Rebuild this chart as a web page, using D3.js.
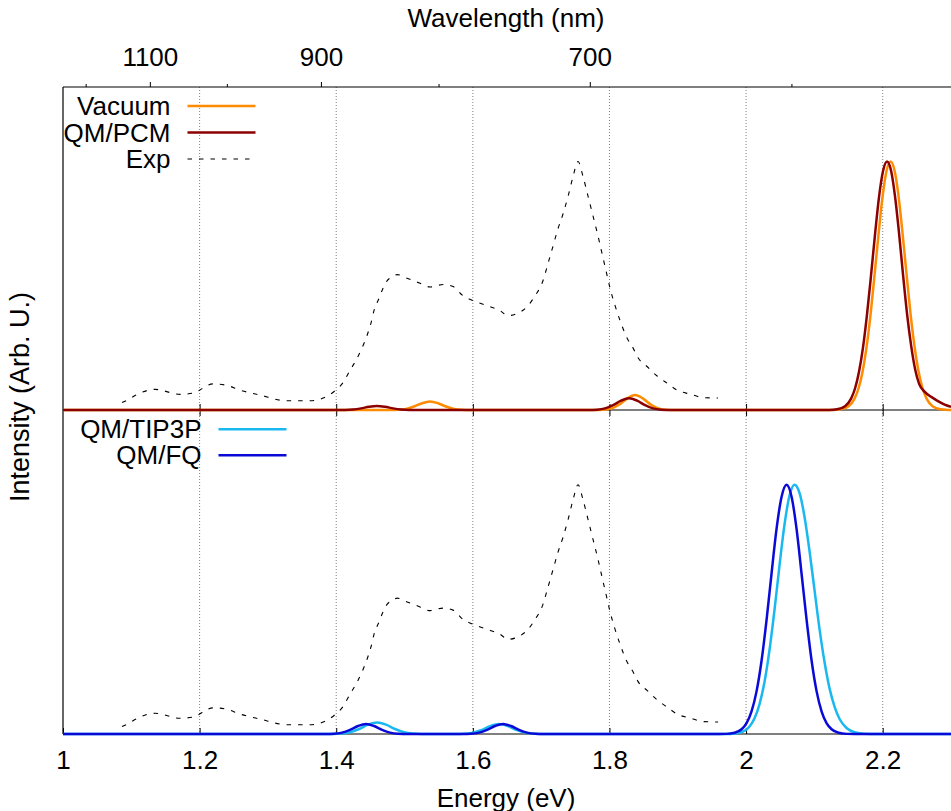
<!DOCTYPE html>
<html>
<head>
<meta charset="utf-8">
<script src="https://cdn.jsdelivr.net/npm/d3@7"></script>
<style>
body{margin:0;background:#fff;}
svg text{font-family:"Liberation Sans",Arial,sans-serif;fill:#000;}
</style>
</head>
<body>
<div id="chart"></div>
<script>
// energy axis (eV)
var energyTicks = [1, 1.2, 1.4, 1.6, 1.8, 2, 2.2];
var gridTicks = [1.2, 1.4, 1.6, 1.8, 2, 2.2];
// wavelength axis (nm)
var wlMajor = [1100, 900, 700];
var wlMinor = [1200, 1000, 800, 600];

// experimental spectrum [eV, normalised intensity]
var expData = [[1.0864,0.03],[1.0957,0.042],[1.1054,0.058],[1.1347,0.083],[1.1713,0.063],[1.1903,0.068],
  [1.2196,0.105],[1.2387,0.10],[1.2591,0.08],[1.2884,0.06],[1.3280,0.037],[1.3616,0.037],[1.3807,0.048],
  [1.3997,0.081],[1.4099,0.11],[1.4202,0.16],[1.4290,0.20],[1.4378,0.25],[1.4451,0.30],[1.4509,0.35],
  [1.4553,0.40],[1.4627,0.45],[1.4685,0.49],[1.4744,0.52],[1.4817,0.535],[1.4890,0.545],[1.5037,0.53],
  [1.5227,0.51],[1.5373,0.495],[1.5564,0.505],[1.5710,0.497],[1.5856,0.46],[1.6003,0.44],[1.6208,0.42],
  [1.6398,0.40],[1.6515,0.38],[1.6662,0.39],[1.6808,0.42],[1.6911,0.46],[1.7013,0.51],[1.7101,0.59],
  [1.7174,0.66],[1.7247,0.73],[1.7321,0.79],[1.7394,0.86],[1.7467,0.94],[1.7540,1.0],[1.7613,0.94],
  [1.7687,0.86],[1.7760,0.78],[1.7833,0.70],[1.7891,0.63],[1.7950,0.56],[1.8009,0.49],[1.8082,0.42],
  [1.8155,0.36],[1.8257,0.29],[1.8345,0.25],[1.8419,0.21],[1.8550,0.175],[1.8697,0.137],[1.8843,0.108],
  [1.8990,0.08],[1.9180,0.064],[1.9370,0.05],[1.9590,0.048]];

// gas phase
var vacuum = [[1.0,0],[1.48,0],[1.4905,0.001],[1.5022,0.0046],[1.5139,0.014],[1.5256,0.0273],[1.5373,0.034],
  [1.5490,0.0273],[1.5608,0.014],[1.5725,0.0046],[1.5842,0.001],[1.595,0],
  [1.78,0],[1.7906,0.0008],[1.8023,0.0056],[1.8140,0.0209],[1.8257,0.046],[1.8375,0.06],[1.8492,0.046],
  [1.8609,0.0209],[1.8726,0.0056],[1.8843,0.0008],[1.895,0],
  [2.115,0],[2.1266,0.0003],[2.1383,0.0026],[2.1501,0.0151],[2.1588,0.0459],[2.1647,0.0876],[2.1706,0.155],
  [2.1764,0.254],[2.1823,0.386],[2.1881,0.544],[2.1940,0.710],[2.1998,0.859],[2.2057,0.963],[2.2115,1.0],
  [2.2174,0.963],[2.2233,0.859],[2.2291,0.710],[2.2350,0.544],[2.2408,0.386],[2.2467,0.254],[2.2525,0.155],
  [2.2584,0.0876],[2.2643,0.0459],[2.2730,0.0151],[2.2847,0.0026],[2.2965,0.0003],[2.3,0]];

// continuum solvation
var pcm = [[1.0,0],[1.40,0],[1.4129,0.0004],[1.4246,0.0022],[1.4363,0.0066],[1.4480,0.0128],[1.4597,0.016],
  [1.4714,0.0128],[1.4832,0.0066],[1.4949,0.0022],[1.5066,0.0004],[1.52,0],
  [1.77,0],[1.7818,0.0013],[1.7935,0.0064],[1.8053,0.0194],[1.8170,0.0376],[1.8287,0.047],[1.8404,0.0376],
  [1.8521,0.0194],[1.8638,0.0064],[1.8755,0.0013],[1.89,0],
  [2.11,0],[2.1215,0.0003],[2.1332,0.0026],[2.1449,0.0151],[2.1537,0.0459],[2.1596,0.0876],[2.1654,0.155],
  [2.1713,0.254],[2.1771,0.386],[2.1830,0.544],[2.1889,0.710],[2.1947,0.859],[2.2006,0.963],[2.2064,1.0],
  [2.2123,0.963],[2.2181,0.859],[2.2240,0.710],[2.2298,0.544],[2.2357,0.386],[2.2416,0.26],[2.2474,0.165],
  [2.2533,0.105],[2.2620,0.072],[2.2708,0.053],[2.2796,0.038],[2.2899,0.023],[2.3,0.013]];

// explicit water, non-polarisable
var tip3p = [[1.0,0],[1.395,0],[1.4070,0.0017],[1.4202,0.0072],[1.4334,0.0201],[1.4466,0.0374],[1.4597,0.046],
  [1.4729,0.0374],[1.4861,0.0201],[1.4993,0.0072],[1.5124,0.0017],[1.525,0],
  [1.575,0],[1.5856,0.0008],[1.5988,0.0046],[1.6120,0.0153],[1.6252,0.0315],[1.6383,0.04],[1.6515,0.0315],
  [1.6647,0.0153],[1.6779,0.0046],[1.6911,0.0008],[1.705,0],
  [1.97,0],[1.9831,0.002],[1.9949,0.009],[2.0051,0.03],[2.0124,0.063],[2.0197,0.12],[2.0271,0.211],
  [2.0344,0.339],[2.0417,0.50],[2.0490,0.678],[2.0563,0.841],[2.0637,0.958],[2.0710,1.0],[2.0783,0.966],
  [2.0856,0.871],[2.0930,0.732],[2.1003,0.575],[2.1076,0.42],[2.1149,0.288],[2.1222,0.183],[2.1296,0.109],
  [2.1369,0.06],[2.1471,0.024],[2.1588,0.007],[2.1735,0.001],[2.19,0],[2.3,0]];

// explicit water, fluctuating charges
var fq = [[1.0,0],[1.385,0],[1.3968,0.001],[1.4085,0.0054],[1.4202,0.0165],[1.4319,0.032],[1.4436,0.04],
  [1.4553,0.032],[1.4671,0.0165],[1.4788,0.0054],[1.4905,0.001],[1.505,0],
  [1.585,0],[1.5974,0.001],[1.6091,0.0054],[1.6208,0.0165],[1.6325,0.032],[1.6442,0.04],[1.6559,0.032],
  [1.6676,0.0165],[1.6793,0.0054],[1.6911,0.001],[1.705,0],
  [1.96,0],[1.9714,0.0005],[1.9831,0.005],[1.9934,0.019],[2.0007,0.044],[2.0080,0.091],[2.0154,0.172],
  [2.0227,0.295],[2.0300,0.458],[2.0373,0.644],[2.0446,0.823],[2.0520,0.952],[2.0593,1.0],[2.0666,0.952],
  [2.0739,0.823],[2.0812,0.644],[2.0886,0.458],[2.0959,0.295],[2.1032,0.172],[2.1105,0.091],[2.1178,0.044],
  [2.1252,0.019],[2.1354,0.005],[2.1471,0.0005],[2.16,0],[2.3,0]];

const W = 951, H = 811;
const pLeft = 63, pRight = 951, pTop = 87, pMid = 410, pBottom = 734;
const font = 26;

const svg = d3.select("#chart").append("svg")
  .attr("width", W)
  .attr("height", H);

const x = d3.scaleLinear().domain([1, 2.3]).range([pLeft, pRight]);
const yTop = d3.scaleLinear().domain([0, 1.3]).range([pMid, pTop]);
const yBot = d3.scaleLinear().domain([0, 1.3]).range([pBottom, pMid]);

svg.append("clipPath").attr("id", "plot")
  .append("rect").attr("x", pLeft).attr("y", pTop - 2)
  .attr("width", pRight - pLeft + 2).attr("height", pBottom - pTop + 4);

// dotted grid in both panels
[[pTop, pMid], [pMid, pBottom]].forEach(function(p){
  svg.append("g").selectAll("line")
    .data(gridTicks)
    .enter()
    .append("line")
    .attr("x1", d => x(d)).attr("x2", d => x(d))
    .attr("y1", p[0]).attr("y2", p[1])
    .attr("stroke", "#808080")
    .attr("stroke-width", 1)
    .attr("stroke-dasharray", "1,2");
});

// frame
var frame = svg.append("g").attr("stroke", "#000").attr("stroke-width", 1.2);
frame.append("line").attr("x1", pLeft).attr("x2", pRight).attr("y1", pTop).attr("y2", pTop);
frame.append("line").attr("x1", pLeft).attr("x2", pRight).attr("y1", pMid).attr("y2", pMid);
frame.append("line").attr("x1", pLeft).attr("x2", pRight).attr("y1", pBottom).attr("y2", pBottom);
frame.append("line").attr("x1", pLeft).attr("x2", pLeft).attr("y1", pTop).attr("y2", pBottom);

function styleAxis(g){
  g.select(".domain").remove();
  g.attr("font-size", font).attr("font-family", '"Liberation Sans",Arial,sans-serif');
}

// bottom energy axis
svg.append("g")
  .attr("transform", "translate(0," + pBottom + ")")
  .call(d3.axisBottom(x).tickValues(energyTicks).tickSize(-6).tickSizeOuter(0)
    .tickPadding(16.5).tickFormat(d3.format("~g")))
  .call(styleAxis);

// ticks on the line between the panels
svg.append("g")
  .attr("transform", "translate(0," + pMid + ")")
  .call(d3.axisBottom(x).tickValues(energyTicks.slice(1)).tickSize(-6).tickSizeOuter(0).tickFormat(""))
  .call(styleAxis);
svg.append("g")
  .attr("transform", "translate(0," + pMid + ")")
  .call(d3.axisTop(x).tickValues(energyTicks.slice(1)).tickSize(-6).tickSizeOuter(0).tickFormat(""))
  .call(styleAxis);

// top wavelength axis
const nm2eV = nm => 1239.84 / nm;
svg.append("g")
  .attr("transform", "translate(0," + pTop + ")")
  .call(d3.axisTop(x).tickValues(wlMajor.map(nm2eV)).tickSize(5).tickSizeOuter(0)
    .tickPadding(16.5).tickFormat((d, i) => wlMajor[i]))
  .call(styleAxis);
svg.append("g")
  .attr("transform", "translate(0," + pTop + ")")
  .call(d3.axisTop(x).tickValues(wlMinor.map(nm2eV)).tickSize(3).tickSizeOuter(0).tickFormat(""))
  .call(styleAxis);

// axis titles
svg.append("text").attr("x", 506).attr("y", 26.5).attr("text-anchor", "middle")
  .attr("font-size", font).text("Wavelength (nm)");
svg.append("text").attr("x", 506).attr("y", 806.5).attr("text-anchor", "middle")
  .attr("font-size", font).text("Energy (eV)");
svg.append("text").attr("transform", "translate(29,397) rotate(-90)")
  .attr("text-anchor", "middle").attr("font-size", 27).text("Intensity (Arb. U.)");

// curves
function drawLine(data, y, color, width, dash){
  svg.append("path")
    .datum(data)
    .attr("clip-path", "url(#plot)")
    .attr("fill", "none")
    .attr("stroke", color)
    .attr("stroke-width", width)
    .attr("stroke-dasharray", dash || null)
    .attr("stroke-linejoin", "round")
    .attr("d", d3.line().x(d => x(d[0])).y(d => y(d[1])).curve(d3.curveMonotoneX));
}

const topSeries = [
  {name: "Vacuum", data: vacuum, color: "#ff8c00", width: 2.5},
  {name: "QM/PCM", data: pcm, color: "#8b0000", width: 2.5},
  {name: "Exp", data: expData, color: "#000", width: 1.1, dash: "4.5,7"}
];
const botSeries = [
  {name: "QM/TIP3P", data: tip3p, color: "#1ab8f0", width: 2.5},
  {name: "QM/FQ", data: fq, color: "#0a0ad8", width: 2.5}
];

topSeries.forEach(s => drawLine(s.data, yTop, s.color, s.width, s.dash));
drawLine(expData, yBot, "#000", 1.1, "4.5,7");
botSeries.forEach(s => drawLine(s.data, yBot, s.color, s.width, s.dash));

// legends
function legend(series, textRight, y0, step){
  series.forEach(function(s, i){
    var y = y0 + i * step;
    svg.append("text").attr("x", textRight).attr("y", y + 9)
      .attr("text-anchor", "end").attr("font-size", font).text(s.name);
    svg.append("line")
      .attr("x1", textRight + 17).attr("x2", textRight + 85)
      .attr("y1", y).attr("y2", y)
      .attr("stroke", s.color).attr("stroke-width", s.width)
      .attr("stroke-dasharray", s.dash || null);
  });
}
legend(topSeries, 170.5, 106, 26.5);
legend(botSeries, 201.5, 429.3, 26);
</script>
</body>
</html>
